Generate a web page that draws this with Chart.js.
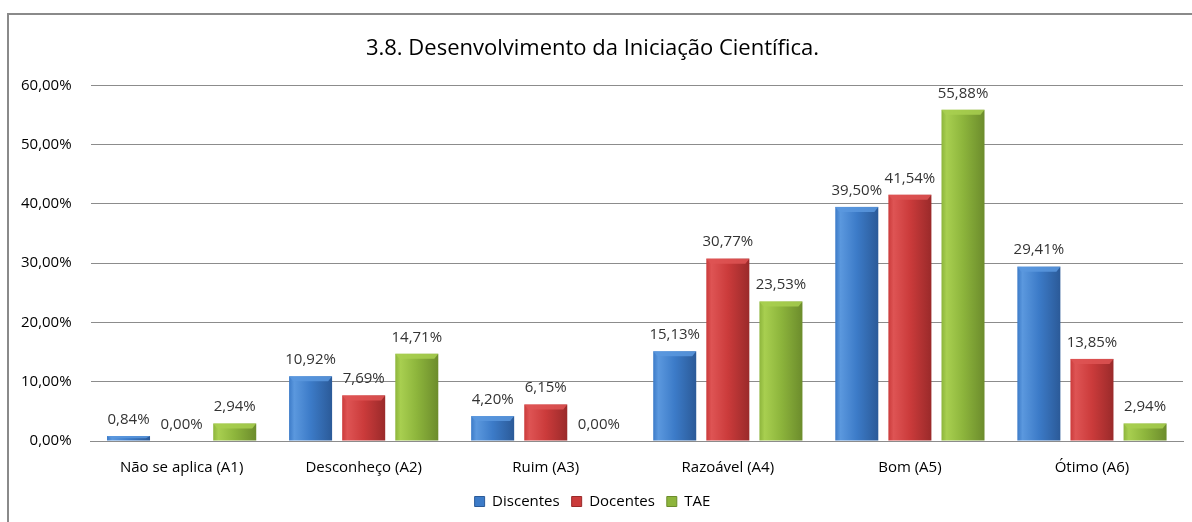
<!DOCTYPE html>
<html>
<head>
<meta charset="utf-8">
<script src="https://cdn.jsdelivr.net/npm/chart.js@4/dist/chart.umd.min.js"></script>
<style>
  html, body { margin: 0; padding: 0; background: #fff; }
  #wrap { position: relative; width: 1192px; height: 522px; overflow: hidden; }
  #frame { position: absolute; left: 7px; top: 13px; width: 1300px; height: 700px;
           border-left: 2px solid #8a8a8a; border-top: 2px solid #8a8a8a; }
  canvas { position: absolute; left: 0; top: 0; }
</style>
</head>
<body>
<div id="wrap">
  <div id="frame"></div>
  <canvas id="c" width="1192" height="522"></canvas>
</div>
<script>
const categories = ["Não se aplica (A1)", "Desconheço (A2)", "Ruim (A3)", "Razoável (A4)", "Bom (A5)", "Ótimo (A6)"];
const discentes = [0.84, 10.92, 4.20, 15.13, 39.50, 29.41];
const docentes  = [0.00, 7.69, 6.15, 30.77, 41.54, 13.85];
const tae       = [2.94, 14.71, 0.00, 23.53, 55.88, 2.94];
const seriesNames = ["Discentes", "Docentes", "TAE"];
const titleText = "3.8. Desenvolvimento da Iniciação Científica.";

const FONT = "'Open Sans', sans-serif";
const palette = [
  { base: "#3C7BC8", light: "#5B98DE", dark: "#2B5A98" },
  { base: "#CB3B3B", light: "#DE5454", dark: "#9A2A2A" },
  { base: "#8DB53C", light: "#A8CF50", dark: "#6C8C2C" }
];

function fmt(v) { return v.toFixed(2).replace('.', ',') + '%'; }

// tighten the legend block so the plot area keeps the reference's height
const legendTweak = {
  id: 'legendTweak',
  beforeLayout(chart) {
    const lg = chart.legend;
    if (lg && !lg._tweaked) {
      const orig = lg.fit;
      lg.fit = function () { orig.call(this); this.height -= 11; };
      lg._tweaked = true;
    }
  },
  afterLayout(chart) {
    const lg = chart.legend;
    if (lg) { lg.top -= 12; lg.bottom -= 12; }
  }
};

const barStyle = {
  id: 'barStyle',
  afterDatasetsDraw(chart) {
    const ctx = chart.ctx;
    chart.getSortedVisibleDatasetMetas().forEach(meta => {
      const pal = palette[meta.index];
      meta.data.forEach((el, i) => {
        const p = el.getProps(['x', 'y', 'base', 'width'], true);
        const left = p.x - p.width / 2, right = p.x + p.width / 2;
        const top = Math.min(p.y, p.base), bot = Math.max(p.y, p.base);
        const h = bot - top;
        ctx.save();
        if (h > 0.5) {
          const g = ctx.createLinearGradient(left, 0, right, 0);
          g.addColorStop(0, pal.base);
          g.addColorStop(0.12, pal.light);
          g.addColorStop(0.5, pal.base);
          g.addColorStop(1, pal.dark);
          ctx.fillStyle = g;
          ctx.fillRect(left, top, p.width, h);
          const bev = Math.min(5, h / 2);
          ctx.fillStyle = pal.light;
          ctx.globalAlpha = 0.85;
          ctx.beginPath();
          ctx.moveTo(left, top); ctx.lineTo(right, top);
          ctx.lineTo(right - 4, top + bev); ctx.lineTo(left + 4, top + bev);
          ctx.closePath(); ctx.fill();
          ctx.globalAlpha = 1;
        }
        const v = chart.data.datasets[meta.index].data[i];
        ctx.fillStyle = "#333333";
        ctx.font = "15px " + FONT;
        ctx.textAlign = "center";
        ctx.textBaseline = "bottom";
        ctx.fillText(fmt(v), p.x, top - 9);
        ctx.restore();
      });
    });
  }
};

const datasets = [discentes, docentes, tae].map((d, k) => ({
  label: seriesNames[k],
  data: d,
  backgroundColor: 'rgba(0,0,0,0)',
  borderWidth: 0,
  categoryPercentage: 0.875,
  barPercentage: 0.81
}));

new Chart(document.getElementById('c'), {
  type: 'bar',
  data: { labels: categories, datasets },
  plugins: [legendTweak, barStyle],
  options: {
    responsive: false,
    animation: false,
    layout: { padding: { left: 2, right: 9, top: 32, bottom: 2 } },
    plugins: {
      title: {
        display: true, text: titleText, color: "#000",
        font: { family: FONT, size: 22, weight: 'normal' },
        padding: { top: 4, bottom: 23 }
      },
      legend: {
        position: 'bottom',
        labels: {
          color: "#000",
          font: { family: FONT, size: 15, lineHeight: 1 },
          boxWidth: 10, boxHeight: 10, padding: 12,
          generateLabels(chart) {
            return chart.data.datasets.map((ds, k) => ({
              text: ds.label, fillStyle: palette[k].base, strokeStyle: palette[k].dark,
              lineWidth: 1, hidden: false, datasetIndex: k, fontColor: "#000"
            }));
          }
        }
      },
      tooltip: { enabled: false }
    },
    scales: {
      x: {
        grid: { display: false, drawTicks: false },
        border: { display: true, color: "#8c8c8c", width: 1 },
        ticks: { color: "#000", font: { family: FONT, size: 15, lineHeight: 1 }, padding: 19 }
      },
      y: {
        min: 0, max: 60,
        grid: { color: "#8c8c8c", lineWidth: 1, drawTicks: false },
        border: { display: false },
        ticks: {
          stepSize: 10, color: "#000", padding: 19,
          font: { family: FONT, size: 15 },
          callback: v => fmt(v)
        }
      }
    }
  }
});
</script>
</body>
</html>
